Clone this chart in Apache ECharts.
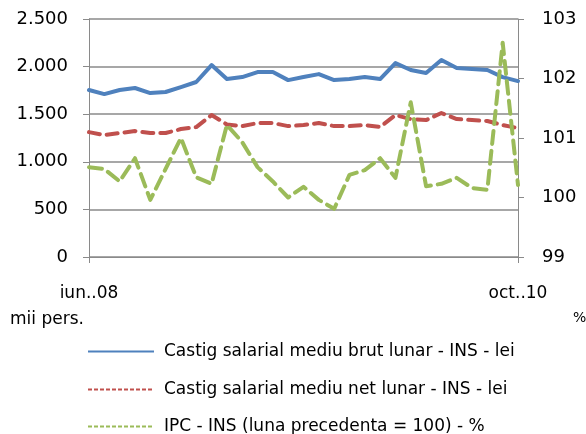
<!DOCTYPE html>
<html>
<head>
<meta charset="utf-8">
<script src="https://cdn.jsdelivr.net/npm/echarts@6/dist/echarts.min.js"></script>
<style>
  html, body { margin: 0; padding: 0; background: #fff; }
  #main { width: 586px; height: 434px; }
</style>
</head>
<body>
<div id="main"></div>
<script>
// luni (eticheta pe axa X)
var luni = ['iun..08','iul..08','aug..08','sep..08','oct..08','noi..08','dec..08',
    'ian..09','feb..09','mar..09','apr..09','mai..09','iun..09','iul..09','aug..09',
    'sep..09','oct..09','noi..09','dec..09','ian..10','feb..10','mar..10','apr..10',
    'mai..10','iun..10','iul..10','aug..10','sep..10','oct..10'];

// castig salarial brut (lei)
var brut = [1754,1711,1754,1775,1722,1733,1785,1838,2016,1869,1890,1943,1943,1858,1890,
    1921,1858,1869,1890,1869,2037,1964,1932,2069,1985,1974,1964,1890,1848];

// castig salarial net (lei)
var net = [1312,1281,1302,1323,1302,1302,1344,1365,1491,1392,1375,1407,1407,1375,1386,
    1407,1375,1375,1386,1365,1491,1449,1438,1512,1449,1438,1428,1386,1354];

// IPC (luna precedenta = 100)
var ipc = [100.51,100.48,100.27,100.66,99.96,100.48,101.0,100.34,100.23,101.22,100.93,
    100.51,100.27,100.0,100.18,99.96,99.81,100.38,100.46,100.66,100.33,101.6,100.19,
    100.23,100.33,100.16,100.13,102.6,100.21];

var leftTicks = [0, 2500, 500];   // min, max, pas
var rightTicks = [99, 103, 1];

var numeSerii = ['Castig salarial mediu brut lunar - INS - lei',
    'Castig salarial mediu net lunar - INS - lei',
    'IPC - INS (luna precedenta = 100) - %'];

var font = 'DejaVu Sans';
var gri = '#8a8a8a';
var albastru = '#4F81BD', rosu = '#C0504D', verde = '#9BBB59';

function capete(i) { return i === 0 || i === luni.length - 1; }

// cate o legenda pe rand, ca sa nu se rupa pe coloane
function legenda(nume, culoare, tip, top) {
    return {
        left: 87,
        top: top,
        padding: 0,
        itemWidth: 66,
        itemHeight: 14,
        itemStyle: { opacity: 0 },   // fara cerculet, doar linia
        textStyle: { fontFamily: font, fontSize: 17, color: '#000', padding: [0, 0, 0, 5] },
        data: [{ name: nume, lineStyle: { color: culoare, width: 2, type: tip, cap: 'butt' } }]
    };
}

var myChart = echarts.init(document.getElementById('main'));
var option = {
    animation: false,
    backgroundColor: '#fff',
    grid: { left: 89, right: 68, top: 19, bottom: 177 },
    legend: [
        legenda(numeSerii[0], albastru, 'solid', 343),
        legenda(numeSerii[1], rosu, [4, 2], 381),
        legenda(numeSerii[2], verde, [4, 2], 418)
    ],
    xAxis: {
        type: 'category',
        boundaryGap: false,
        data: luni,
        axisLine: { lineStyle: { color: gri, width: 1 } },
        axisTick: { show: true, interval: capete, length: 6, lineStyle: { color: gri } },
        axisLabel: { interval: capete, margin: 28, fontFamily: font, fontSize: 17, color: '#000' },
        splitLine: { show: false }
    },
    yAxis: [
        {
            type: 'value',
            min: leftTicks[0], max: leftTicks[1], interval: leftTicks[2],
            axisLine: { show: true, lineStyle: { color: gri } },
            axisTick: { show: true, length: 6, lineStyle: { color: gri } },
            axisLabel: {
                margin: 21, fontFamily: font, fontSize: 18, color: '#000',
                formatter: function (v) {
                    if (v >= 1000) return Math.floor(v / 1000) + '.' + String(v % 1000).padStart(3, '0');
                    return String(v);
                }
            },
            splitLine: { show: true, lineStyle: { color: gri, width: 1.5 } }
        },
        {
            type: 'value',
            position: 'right',
            min: rightTicks[0], max: rightTicks[1], interval: rightTicks[2],
            axisLine: { show: true, lineStyle: { color: gri } },
            axisTick: { show: true, length: 6, lineStyle: { color: gri } },
            axisLabel: { margin: 24, fontFamily: font, fontSize: 18, color: '#000' },
            splitLine: { show: false }
        }
    ],
    graphic: [
        { type: 'text', left: 10, top: 311, style: { text: 'mii pers.', fontFamily: font, fontSize: 17, fill: '#000' } },
        { type: 'text', left: 573, top: 311, style: { text: '%', fontFamily: font, fontSize: 14, fill: '#000' } }
    ],
    series: [
        {
            name: numeSerii[0], type: 'line', data: brut, yAxisIndex: 0,
            symbol: 'none', color: albastru,
            lineStyle: { width: 4, color: albastru, cap: 'round', join: 'round' }
        },
        {
            name: numeSerii[1], type: 'line', data: net, yAxisIndex: 0,
            symbol: 'none', color: rosu,
            lineStyle: { width: 4, color: rosu, type: [11, 7], cap: 'round', join: 'round' }
        },
        {
            name: numeSerii[2], type: 'line', data: ipc, yAxisIndex: 1,
            symbol: 'none', color: verde,
            lineStyle: { width: 4, color: verde, type: [13, 7], cap: 'round', join: 'round' }
        }
    ]
};
myChart.setOption(option);
</script>
</body>
</html>
